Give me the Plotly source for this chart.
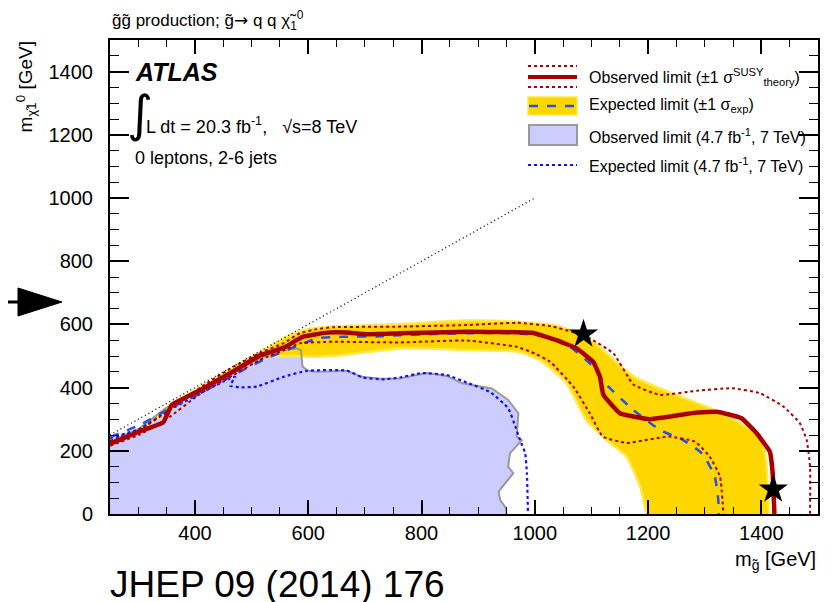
import plotly.graph_objects as go

# ---------------- data (GeV) ----------------
obs_x = [250, 303, 344, 359, 409, 468, 515, 556, 591, 633, 668, 703, 762, 880, 997, 1037, 1074, 1103, 1115, 1121, 1150, 1203, 1286, 1324, 1365, 1392, 1415, 1420, 1423]
obs_y = [222, 262, 290, 345, 392, 452, 502, 526, 561, 574, 574, 569, 572, 577, 573, 551, 524, 482, 434, 377, 319, 300, 321, 323, 303, 255, 197, 129, 0]

obs_up_x = [250, 303, 350, 409, 468, 515, 556, 585, 615, 644, 762, 880, 968, 1027, 1074, 1097, 1139, 1174, 1221, 1286, 1348, 1398, 1439, 1468, 1480, 1486, 1486]
obs_up_y = [232, 268, 322, 400, 466, 510, 540, 572, 585, 591, 593, 598, 605, 595, 572, 556, 508, 410, 377, 390, 398, 382, 340, 287, 234, 150, 0]

obs_dn_x = [250, 303, 350, 409, 468, 515, 556, 585, 644, 762, 880, 968, 1000, 1027, 1068, 1097, 1120, 1162, 1236, 1283, 1309, 1327, 1333]
obs_dn_y = [216, 252, 300, 380, 440, 488, 517, 540, 545, 543, 549, 529, 508, 482, 403, 319, 245, 225, 245, 229, 181, 118, 0]

exp_x = [250, 303, 350, 409, 468, 527, 585, 615, 662, 721, 762, 880, 968, 1021, 1062, 1097, 1127, 1174, 1221, 1262, 1292, 1303, 1318, 1324, 1325]
exp_y = [243, 282, 329, 382, 440, 493, 535, 556, 561, 562, 566, 572, 572, 561, 529, 477, 408, 329, 266, 234, 197, 171, 118, 44, 0]

band_up_x = [300, 360, 409, 468, 515, 562, 597, 644, 762, 880, 968, 1045, 1091, 1120, 1150, 1180, 1220, 1260, 1309, 1350, 1386, 1403, 1409, 1414]
band_up_y = [266, 350, 400, 464, 512, 561, 584, 593, 601, 612, 608, 593, 561, 520, 470, 430, 398, 370, 335, 300, 260, 225, 150, 0]

band_dn_x = [300, 360, 409, 468, 515, 556, 600, 644, 762, 880, 968, 1009, 1056, 1091, 1127, 1162, 1186, 1197]
band_dn_y = [262, 335, 392, 452, 494, 500, 498, 500, 524, 519, 514, 487, 414, 297, 234, 181, 86, 0]

old_obs_x = [250, 303, 350, 409, 468, 509, 550, 580, 587, 590, 600, 615, 668, 694, 727, 762, 809, 844, 872, 924, 953, 971, 968, 977, 956, 953, 962, 936, 939, 949, 950]
old_obs_y = [230, 272, 336, 393, 450, 487, 519, 524, 519, 466, 453, 450, 453, 434, 428, 429, 446, 437, 414, 397, 361, 319, 245, 234, 192, 150, 129, 71, 44, 19, 0]

old_exp_x = [250, 303, 350, 409, 462, 471, 462, 480, 509, 556, 597, 668, 697, 732, 762, 800, 844, 880, 921, 953, 966, 974, 983, 986, 988]
old_exp_y = [240, 270, 324, 382, 429, 434, 406, 401, 403, 434, 453, 454, 432, 426, 432, 446, 440, 416, 386, 335, 275, 234, 192, 129, 0]

diag_x = [250, 1000]
diag_y = [250, 1000]

star_x = [1086, 1421]
star_y = [569, 78]

x_range = [250, 1500]
y_range = [0, 1500]

# ---------------- style ----------------
FONT = "Liberation Sans, Arial, Helvetica, sans-serif"
RED = "#a80000"
GOLD = "#ffd700"
GOLD_EDGE = "#ffe84a"
LAV = "#ccccff"
GREY = "#999999"
BLUE_DASH = "#2a4ee8"
BLUE_DOT = "#1010ff"

# plot area in page pixels (page has an 8px body margin)
OFF = 8
L, R, T, B = 110, 818, 40, 514
W, H = 834 - OFF, 602 - OFF


def px(xp):
    return (xp - L) / (R - L)


def py(yp):
    return (B - yp) / (B - T)


fig = go.Figure()

# 7 TeV observed (filled)
fig.add_trace(go.Scatter(x=old_obs_x, y=old_obs_y, mode="lines", fill="tozeroy",
                         fillcolor=LAV, line=dict(width=0, color=LAV),
                         hoverinfo="skip", showlegend=False))

# expected +-1 sigma band
fig.add_trace(go.Scatter(x=band_dn_x, y=band_dn_y, mode="lines",
                         line=dict(width=2.5, color=GOLD_EDGE, shape="spline", smoothing=0.5),
                         hoverinfo="skip", showlegend=False))
fig.add_trace(go.Scatter(x=band_up_x, y=band_up_y, mode="lines", fill="tonexty",
                         fillcolor=GOLD,
                         line=dict(width=2.5, color=GOLD_EDGE, shape="spline", smoothing=0.5),
                         hoverinfo="skip", showlegend=False))

# 7 TeV observed outline
fig.add_trace(go.Scatter(x=old_obs_x, y=old_obs_y, mode="lines",
                         line=dict(width=2, color=GREY),
                         hoverinfo="skip", showlegend=False))

# 7 TeV expected
fig.add_trace(go.Scatter(x=old_exp_x, y=old_exp_y, mode="lines",
                         line=dict(width=2.2, color=BLUE_DOT, dash="dot", shape="spline", smoothing=0.4),
                         hoverinfo="skip", showlegend=False))

# 8 TeV expected
fig.add_trace(go.Scatter(x=exp_x, y=exp_y, mode="lines",
                         line=dict(width=2.5, color=BLUE_DASH, dash="dash", shape="spline", smoothing=0.4),
                         hoverinfo="skip", showlegend=False))

# theory +-1 sigma
fig.add_trace(go.Scatter(x=obs_up_x, y=obs_up_y, mode="lines",
                         line=dict(width=2, color=RED, dash="dot", shape="spline", smoothing=0.4),
                         hoverinfo="skip", showlegend=False))
fig.add_trace(go.Scatter(x=obs_dn_x, y=obs_dn_y, mode="lines",
                         line=dict(width=2, color=RED, dash="dot", shape="spline", smoothing=0.4),
                         hoverinfo="skip", showlegend=False))

# observed
fig.add_trace(go.Scatter(x=obs_x, y=obs_y, mode="lines",
                         line=dict(width=4.5, color=RED, shape="spline", smoothing=0.3),
                         hoverinfo="skip", showlegend=False))

# kinematic diagonal
fig.add_trace(go.Scatter(x=diag_x, y=diag_y, mode="lines",
                         line=dict(width=1.3, color="black", dash="1px,3px"),
                         hoverinfo="skip", showlegend=False))

# stars
fig.add_trace(go.Scatter(x=star_x, y=star_y, mode="markers",
                         marker=dict(symbol="star", size=22, color="black"),
                         hoverinfo="skip", showlegend=False))

axis_common = dict(
    showgrid=False, zeroline=False, showline=True, linecolor="black", linewidth=2,
    mirror="ticks", ticks="inside", tickcolor="black", tickwidth=1.5,
    tickfont=dict(family=FONT, size=20, color="black"),
)

fig.update_xaxes(range=x_range, tick0=0, dtick=200, ticklen=14,
                 minor=dict(dtick=50, ticklen=7, ticks="inside", tickcolor="black", tickwidth=1.2),
                 ticklabelstandoff=0, **axis_common)
fig.update_yaxes(range=y_range, tick0=0, dtick=200, ticklen=19,
                 minor=dict(dtick=50, ticklen=9, ticks="inside", tickcolor="black", tickwidth=1.2),
                 ticklabelstandoff=11, **axis_common)

ann = []
shapes = []

# title
ann.append(dict(x=px(110), y=py(20), xref="paper", yref="paper", xanchor="left", yanchor="middle",
                text="g̃g̃ production; g̃<span style='font-family:DejaVu Sans'>→</span> q q χ̃<sub>1</sub><sup>0</sup>",
                showarrow=False, font=dict(family=FONT, size=17, color="black")))
# ATLAS
ann.append(dict(x=px(133), y=py(72), xref="paper", yref="paper", xanchor="left", yanchor="middle",
                text="<b><i>ATLAS</i></b>", showarrow=False,
                font=dict(family=FONT, size=25, color="black")))
# integral
ann.append(dict(x=px(125), y=py(114), xref="paper", yref="paper", xanchor="left", yanchor="middle",
                text="∫", showarrow=False,
                font=dict(family="DejaVu Sans, sans-serif", size=50, color="black")))
ann.append(dict(x=px(144), y=py(125), xref="paper", yref="paper", xanchor="left", yanchor="middle",
                text="L dt = 20.3 fb<sup>-1</sup>,   √s=8 TeV", showarrow=False,
                font=dict(family=FONT, size=18, color="black")))
ann.append(dict(x=px(133), y=py(158), xref="paper", yref="paper", xanchor="left", yanchor="middle",
                text="0 leptons, 2-6 jets", showarrow=False,
                font=dict(family=FONT, size=18, color="black")))

# axis titles
ann.append(dict(x=px(26), y=1.0, xref="paper", yref="paper", xanchor="center", yanchor="top",
                text="m<sub>χ̃1</sub><sup>0</sup> [GeV]", textangle=-90, showarrow=False,
                font=dict(family=FONT, size=19, color="black")))
ann.append(dict(x=1.0, y=py(560), xref="paper", yref="paper", xanchor="right", yanchor="middle",
                text="m<sub>g̃</sub> [GeV]", showarrow=False,
                font=dict(family=FONT, size=20, color="black")))

# journal reference
ann.append(dict(x=px(108), y=py(584), xref="paper", yref="paper", xanchor="left", yanchor="middle",
                text="JHEP 09 (2014) 176", showarrow=False,
                font=dict(family=FONT, size=37, color="black")))

# arrow on the left
shapes.append(dict(type="line", xref="paper", yref="paper", x0=px(OFF), x1=px(22), y0=py(302), y1=py(302),
                   line=dict(color="black", width=3)))
shapes.append(dict(type="path", xref="paper", yref="paper",
                   path=f"M {px(18)},{py(288)} L {px(62)},{py(302)} L {px(18)},{py(316)} Z",
                   fillcolor="black", line=dict(color="black", width=1)))

# ---------------- legend (drawn) ----------------
lx0, lx1 = 528, 577
tx = 587
lfont = dict(family=FONT, size=16, color="black")
# 1 observed
shapes.append(dict(type="line", xref="paper", yref="paper", x0=px(lx0), x1=px(lx1), y0=py(66), y1=py(66),
                   line=dict(color=RED, width=2, dash="dot")))
shapes.append(dict(type="line", xref="paper", yref="paper", x0=px(lx0), x1=px(lx1), y0=py(77), y1=py(77),
                   line=dict(color=RED, width=4)))
shapes.append(dict(type="line", xref="paper", yref="paper", x0=px(lx0), x1=px(lx1), y0=py(87), y1=py(87),
                   line=dict(color=RED, width=2, dash="dot")))
ann.append(dict(x=px(tx), y=py(77), xref="paper", yref="paper", xanchor="left", yanchor="middle",
                text="Observed limit (±1 σ<sup>SUSY</sup><sub>theory</sub>)", showarrow=False, font=lfont))
# 2 expected
shapes.append(dict(type="rect", xref="paper", yref="paper", x0=px(lx0), x1=px(lx1), y0=py(115), y1=py(97),
                   fillcolor=GOLD, line=dict(color=GOLD_EDGE, width=1.5)))
shapes.append(dict(type="line", xref="paper", yref="paper", x0=px(lx0 + 1), x1=px(lx1 - 1), y0=py(106), y1=py(106),
                   line=dict(color=BLUE_DASH, width=2.5, dash="dash")))
ann.append(dict(x=px(tx), y=py(106), xref="paper", yref="paper", xanchor="left", yanchor="middle",
                text="Expected limit (±1 σ<sub>exp</sub>)", showarrow=False, font=lfont))
# 3 old observed
shapes.append(dict(type="rect", xref="paper", yref="paper", x0=px(lx0 + 1), x1=px(lx1), y0=py(145), y1=py(125),
                   fillcolor=LAV, line=dict(color=GREY, width=2)))
ann.append(dict(x=px(tx), y=py(136), xref="paper", yref="paper", xanchor="left", yanchor="middle",
                text="Observed limit (4.7 fb<sup>-1</sup>, 7 TeV)", showarrow=False, font=lfont))
# 4 old expected
shapes.append(dict(type="line", xref="paper", yref="paper", x0=px(lx0), x1=px(lx1), y0=py(165), y1=py(165),
                   line=dict(color=BLUE_DOT, width=2, dash="dot")))
ann.append(dict(x=px(tx), y=py(165), xref="paper", yref="paper", xanchor="left", yanchor="middle",
                text="Expected limit (4.7 fb<sup>-1</sup>, 7 TeV)", showarrow=False, font=lfont))

fig.update_layout(
    width=W, height=H,
    margin=dict(l=L - OFF, r=(834 - R), t=T - OFF, b=(602 - B), pad=0),
    paper_bgcolor="white", plot_bgcolor="white",
    font=dict(family=FONT, color="black"),
    annotations=ann, shapes=shapes, showlegend=False,
)

fig.write_html("out.html")
